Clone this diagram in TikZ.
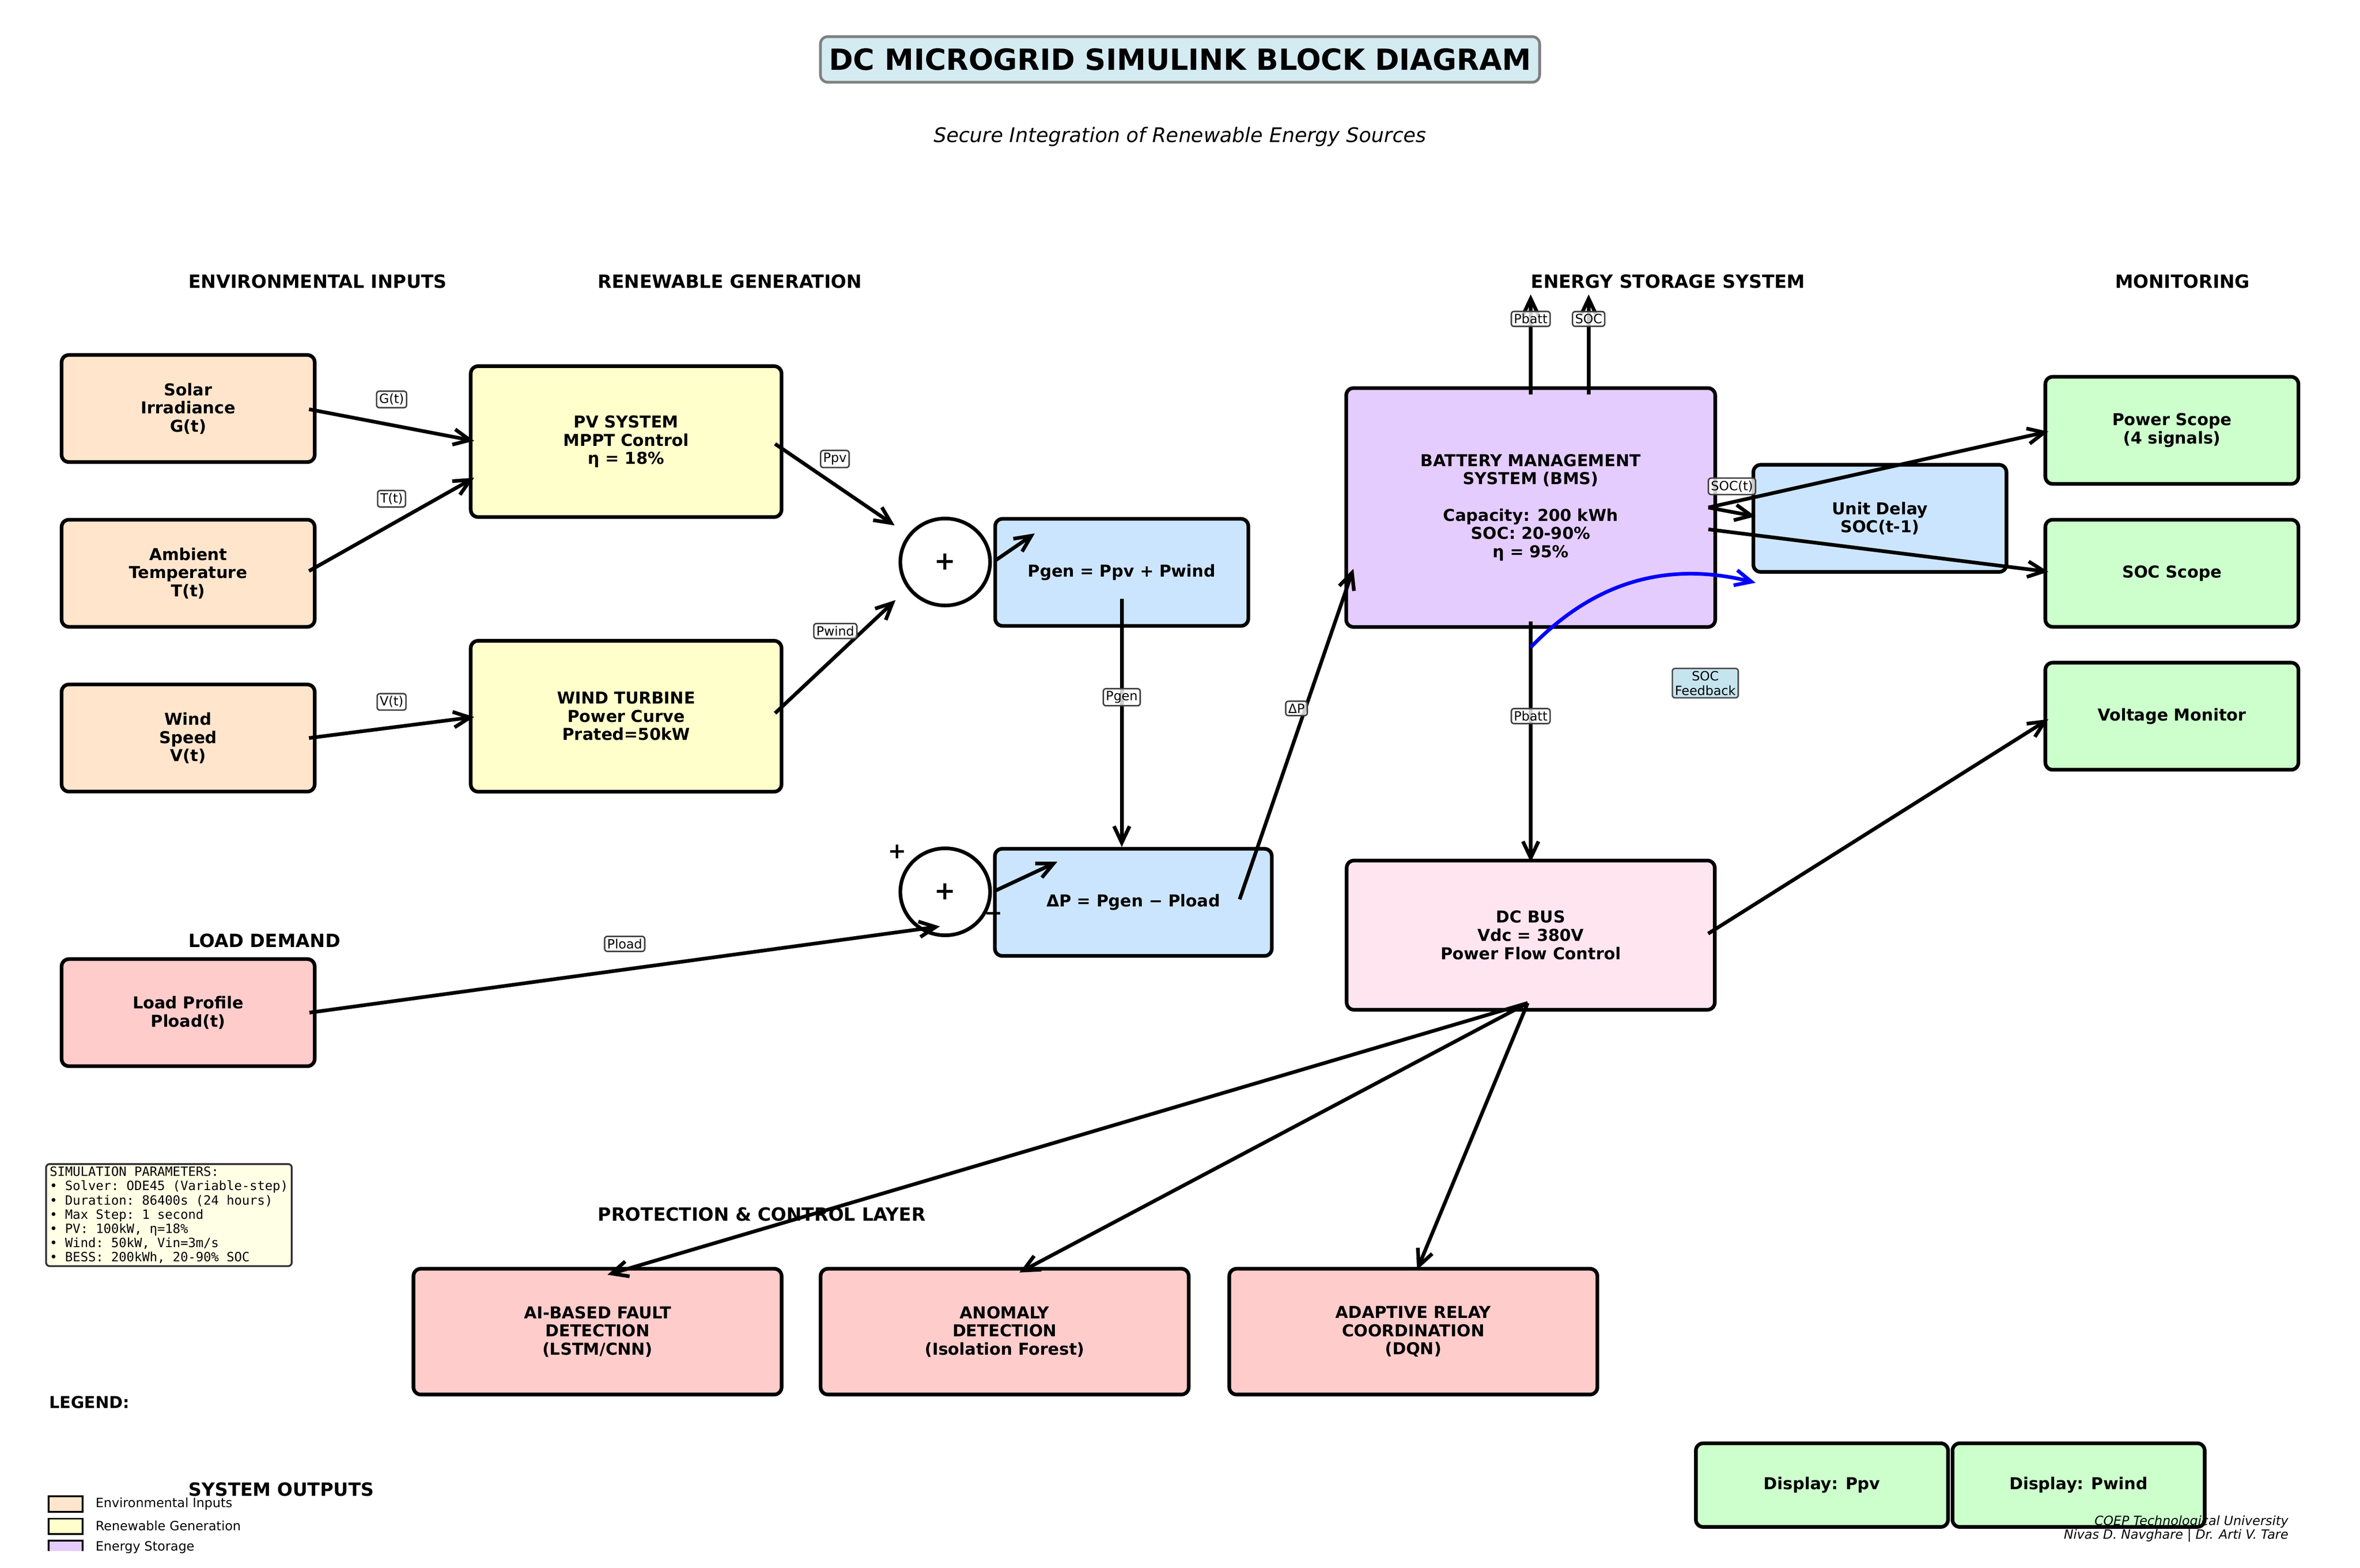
\documentclass[tikz,border=0pt]{standalone}
\usepackage{fontspec}
\setmainfont{DejaVu Sans}
\setmonofont{DejaVu Sans Mono}
\usetikzlibrary{arrows.meta,calc,shapes.geometric}
\definecolor{envfill}{HTML}{FFE5CC}
\definecolor{genfill}{HTML}{FFFFCC}
\definecolor{calcfill}{HTML}{CCE5FF}
\definecolor{bmsfill}{HTML}{E5CCFF}
\definecolor{monfill}{HTML}{CCFFCC}
\definecolor{busfill}{HTML}{FFE5F0}
\definecolor{protfill}{HTML}{FFCCCC}
\definecolor{titlefill}{HTML}{D5EBF2}
\definecolor{notefill}{HTML}{FFFFE6}
\definecolor{fbfill}{HTML}{C6E4EE}
\begin{document}
\begin{tikzpicture}[x=0.8219bp,y=-0.8219bp,
	blockbox/.style={draw,line width=2bp,rounded corners=4bp,align=center,inner sep=2bp,font=\fontsize{9}{10}\selectfont\bfseries},
	envbox/.style={blockbox,fill=envfill,minimum width=138.2bp,minimum height=58.5bp},
	genbox/.style={blockbox,fill=genfill,minimum width=169.7bp,minimum height=82.4bp},
	calcbox/.style={blockbox,fill=calcfill,minimum width=138.2bp,minimum height=58.5bp},
	monbox/.style={blockbox,fill=monfill,minimum width=138.2bp,minimum height=58.5bp},
	protbox/.style={blockbox,fill=protfill,minimum width=201bp,minimum height=68.7bp},
	dispbox/.style={blockbox,fill=monfill,minimum width=137.7bp,minimum height=45.7bp},
	sumnode/.style={draw,ellipse,line width=2bp,minimum width=49bp,minimum height=47.5bp,inner sep=0pt,font=\fontsize{14}{16}\selectfont\bfseries},
	sigtag/.style={draw=black!75,line width=0.8bp,fill=white,fill opacity=0.8,text opacity=1,rounded corners=1.5bp,inner sep=1.4bp,font=\fontsize{7}{8}\selectfont},
	flow/.style={line width=2bp,-{Straight Barb[length=9bp,width=8.5bp]}},
	hdr/.style={anchor=west,inner sep=0pt,font=\fontsize{10}{12}\selectfont\bfseries},
	legtext/.style={anchor=west,inner sep=0pt,font=\fontsize{7}{8}\selectfont}]
	\useasboundingbox (0,0) rectangle (1568,1042);
	\node [draw=gray,line width=1.5bp,fill=titlefill,rounded corners=4bp,minimum width=392.7bp,minimum height=24.9bp,font=\fontsize{16}{19}\selectfont\bfseries] (title) at (784,39.5) {DC MICROGRID SIMULINK BLOCK DIAGRAM};
	\node [font=\fontsize{11}{13}\selectfont\itshape] (subtitle) at (784,91) {Secure Integration of Renewable Energy Sources};
	\node [hdr] (hEnv) at (125,187) {ENVIRONMENTAL INPUTS};
	\node [hdr] (hGen) at (397,187) {RENEWABLE GENERATION};
	\node [hdr] (hEss) at (1017,187) {ENERGY STORAGE SYSTEM};
	\node [hdr] (hMon) at (1405,187) {MONITORING};
	\node [hdr] (hLoad) at (125,625) {LOAD DEMAND};
	\node [hdr] (hProt) at (397,807) {PROTECTION \& CONTROL LAYER};
	\node [hdr] (hOut) at (125,990) {SYSTEM OUTPUTS};
	\node [hdr,font=\fontsize{9}{11}\selectfont\bfseries] (hLeg) at (32.5,932) {LEGEND:};
	\node [envbox] (solar) at (125,271.5) {Solar\\Irradiance\\G(t)};
	\node [envbox] (amb) at (125,381) {Ambient\\Temperature\\T(t)};
	\node [envbox] (wspd) at (125,490.5) {Wind\\Speed\\V(t)};
	\node [genbox] (pv) at (416,293.5) {PV SYSTEM\\MPPT Control\\η = 18\%};
	\node [genbox] (wt) at (416,476) {WIND TURBINE\\Power Curve\\Prated=50kW};
	\node [sumnode] (sum1) at (628,373.5) {+};
	\node [sumnode] (sum2) at (628,592.7) {+};
	\node [calcbox] (pgen) at (745.3,380.4) {Pgen = Ppv + Pwind};
	\node [calcbox,minimum width=151.2bp] (dp) at (753,599.7) {ΔP = Pgen − Pload};
	\node [font=\fontsize{12}{14}\selectfont\bfseries,inner sep=0pt] (sgnPlus) at (596,566) {+};
	\node [font=\fontsize{12}{14}\selectfont\bfseries,inner sep=0pt] (sgnMinus) at (660,609) {−};
	\node [envbox,fill=protfill] (load) at (125,673) {Load Profile\\Pload(t)};
	\node [blockbox,fill=bmsfill,minimum width=201.5bp,minimum height=130.5bp] (bms) at (1017,337.3) {BATTERY MANAGEMENT\\SYSTEM (BMS)\\[10bp]Capacity: 200 kWh\\SOC: 20-90\%\\η = 95\%};
	\node [blockbox,fill=busfill,minimum width=201bp,minimum height=81.5bp] (dcbus) at (1017,621.5) {DC BUS\\Vdc = 380V\\Power Flow Control};
	\node [calcbox] (udelay) at (1249,344.5) {Unit Delay\\SOC(t-1)};
	\node [monbox] (pscope) at (1443,286) {Power Scope\\(4 signals)};
	\node [monbox] (socscope) at (1443,381) {SOC Scope};
	\node [monbox] (vmon) at (1443,476) {Voltage Monitor};
	\node [protbox] (ai) at (397,885) {AI-BASED FAULT\\DETECTION\\(LSTM/CNN)};
	\node [protbox] (anom) at (667.5,885) {ANOMALY\\DETECTION\\(Isolation Forest)};
	\node [protbox] (relay) at (939,885) {ADAPTIVE RELAY\\COORDINATION\\(DQN)};
	\node [dispbox] (dppv) at (1210.5,987) {Display: Ppv};
	\node [dispbox] (dpwind) at (1381,987) {Display: Pwind};
	\node [draw=black!80,line width=1bp,fill=notefill,rounded corners=2bp,anchor=north west,align=left,inner xsep=2bp,inner ysep=1.5bp,font=\fontsize{7}{7.8}\selectfont\ttfamily] (simpar) at (30,773) {SIMULATION PARAMETERS:\\• Solver: ODE45 (Variable-step)\\• Duration: 86400s (24 hours)\\• Max Step: 1 second\\• PV: 100kW, η=18\%\\• Wind: 50kW, Vin=3m/s\\• BESS: 200kWh, 20-90\% SOC};
	\node [draw=black!70,line width=0.8bp,fill=fbfill,rounded corners=1.5bp,inner sep=1.4bp,align=center,font=\fontsize{7}{8}\selectfont] (fbtxt) at (1133,454) {SOC\\Feedback};
	\coordinate (bmsout) at ($(bms.east)+(-5.8,0)$);
	\coordinate (busout) at ($(dcbus.south)+(-2,-5.7)$);
	\draw [flow] ($(solar.east)+(-5,0.5)$) -- ($(pv.west)+(3.5,-0.5)$) node [sigtag,midway,yshift=14bp] (tagG) {G(t)};
	\draw [flow] ($(amb.east)+(-5,-1.5)$) -- ($(pv.west)+(3.5,24)$) node [sigtag,midway,yshift=14bp] (tagT) {T(t)};
	\draw [flow] ($(wspd.east)+(-5,0)$) -- ($(wt.west)+(3.5,0.5)$) node [sigtag,midway,yshift=14bp] (tagV) {V(t)};
	\draw [flow] ($(pv.east)+(-5.5,1.5)$) -- ($(sum1)+(-33.6,-24.3)$) node [sigtag,midway,yshift=14bp] (tagPpv) {Ppv};
	\draw [flow] ($(wt.east)+(-5.5,-2)$) -- ($(sum1)+(-33,25.3)$) node [sigtag,midway,yshift=14bp] (tagPwind) {Pwind};
	\draw [flow] ($(sum1.east)+(2,-0.8)$) -- ($(sum1.east)+(28.5,-19)$);
	\draw [flow] ($(pgen)+(0,17.5)$) -- (pgen |- dp.north) node [sigtag,midway,yshift=14bp] (tagPgen) {Pgen};
	\draw [flow] ($(sum2.east)+(2,-0.6)$) -- ($(sum2.east)+(43.5,-20)$);
	\draw [flow] ($(load.east)+(-4.7,0)$) -- ($(sum2)+(-3.5,23)$) node [sigtag,midway,yshift=14bp] (tagPload) {Pload};
	\draw [flow] ($(dp)+(70.6,-2)$) -- ($(bms.west)+(6,40.7)$) node [sigtag,midway,yshift=14bp] (tagDP) {ΔP};
	\draw [flow] ($(bms.north)+(0,5.6)$) -- ($(bms.north)+(0,-61)$) node [sigtag,midway,yshift=14bp] (tagPbattUp) {Pbatt};
	\draw [flow] ($(bms.north)+(38.5,5.6)$) -- ($(bms.north)+(38.5,-61)$) node [sigtag,midway,yshift=14bp] (tagSoc) {SOC};
	\draw [flow] ($(bms.south)+(0,-5)$) -- ($(dcbus.north)+(0,2.3)$) node [sigtag,midway,yshift=14bp] (tagPbatt) {Pbatt};
	\draw [flow] (bmsout) -- ($(udelay.west)+(2.7,-1.3)$) node [sigtag,midway,yshift=14bp] (tagSocT) {SOC(t)};
	\draw [flow] (bmsout) -- ($(pscope.west)+(3.2,0.8)$);
	\draw [flow] ($(bmsout)+(0,14.5)$) -- ($(socscope.west)+(3.2,-1)$);
	\draw [flow,blue] ($(bms.south)+(0,12.3)$) to [bend left=30] ($(udelay.south west)+(2.7,6)$);
	\draw [flow] ($(dcbus.east)+(-5.6,-1)$) -- ($(vmon.west)+(3.2,2)$);
	\draw [flow] (busout) -- ($(ai.north)+(6.6,5.2)$);
	\draw [flow] (busout) -- ($(anom.north)+(9.8,3.7)$);
	\draw [flow] (busout) -- ($(relay.north)+(2.5,2)$);
	\draw [line width=1bp,fill=envfill] (32.4,994.4) rectangle (54.9,1004.8);
	\draw [line width=1bp,fill=genfill] (32.4,1009.3) rectangle (54.9,1019.6);
	\begin{scope}
	\clip (0,0) rectangle (1568,1030.5);
	\draw [line width=1bp,fill=bmsfill] (32.4,1023.8) rectangle (54.9,1034.2);
	\end{scope}
	\node [legtext] (legEnv) at (63.3,999.5) {Environmental Inputs};
	\node [legtext] (legGen) at (63.3,1014) {Renewable Generation};
	\node [legtext] (legEss) at (63.3,1028.3) {Energy Storage};
	\node [anchor=east,inner sep=0pt,font=\fontsize{7}{8}\selectfont\itshape] (foot1) at (1520.6,1011.4) {COEP Technological University};
	\node [anchor=east,inner sep=0pt,font=\fontsize{7}{8}\selectfont\itshape] (foot2) at (1520.6,1020.7) {Nivas D. Navghare | Dr. Arti V. Tare};
\end{tikzpicture}
\end{document}
